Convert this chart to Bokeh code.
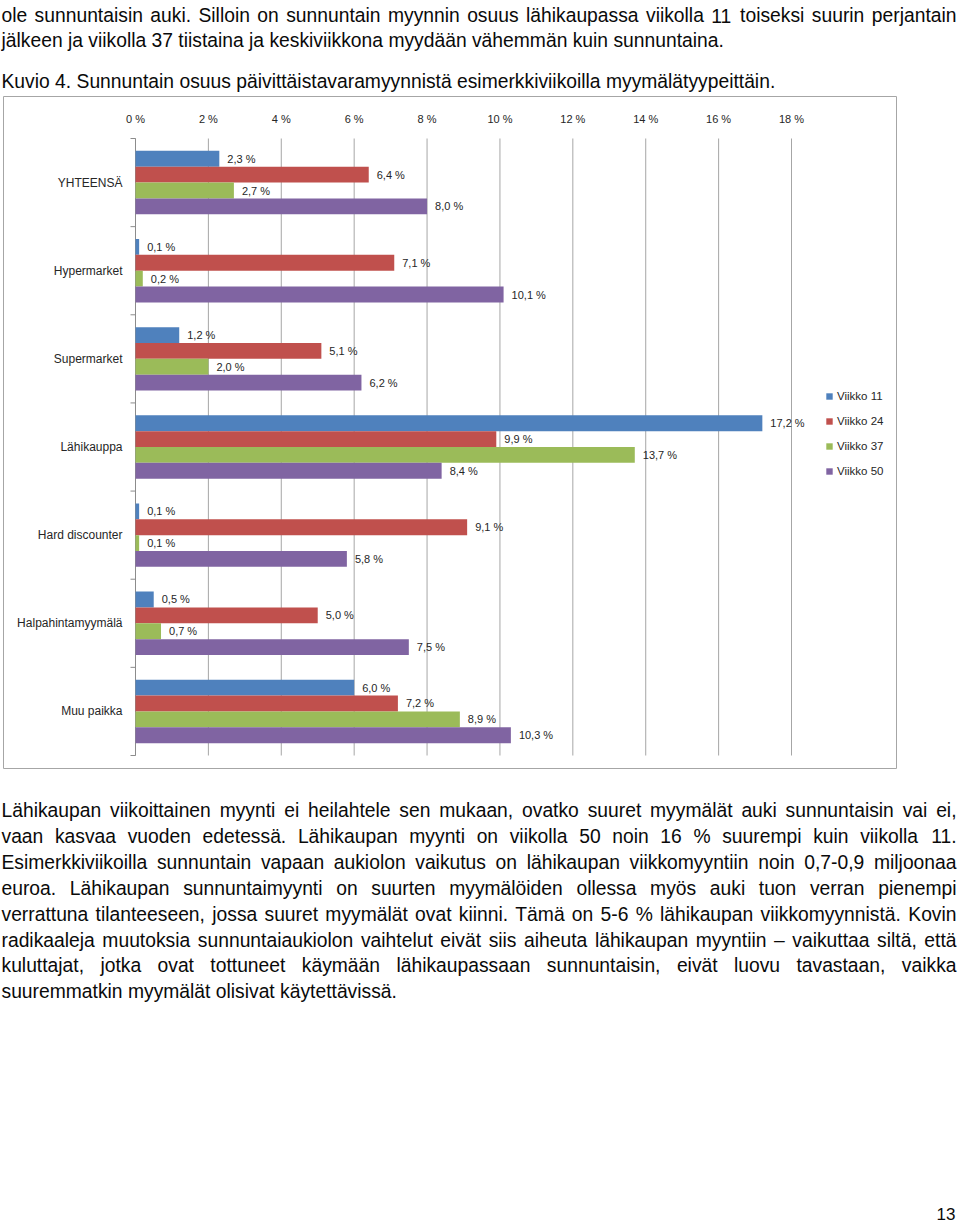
from bokeh.plotting import figure
from bokeh.models import ColumnDataSource, Range1d, Legend, LegendItem
from bokeh.embed import file_html
from bokeh.resources import INLINE
from bokeh.core.properties import value, field

# ---------------- data ----------------
categories = ["YHTEENSÄ", "Hypermarket", "Supermarket", "Lähikauppa",
              "Hard discounter", "Halpahintamyymälä", "Muu paikka"]
series_names = ["Viikko 11", "Viikko 24", "Viikko 37", "Viikko 50"]
viikko_11 = [2.3, 0.1, 1.2, 17.2, 0.1, 0.5, 6.0]
viikko_24 = [6.4, 7.1, 5.1, 9.9, 9.1, 5.0, 7.2]
viikko_37 = [2.7, 0.2, 2.0, 13.7, 0.1, 0.7, 8.9]
viikko_50 = [8.0, 10.1, 6.2, 8.4, 5.8, 7.5, 10.3]
x_ticks = [0, 2, 4, 6, 8, 10, 12, 14, 16, 18]
x_tick_labels = ["0 %", "2 %", "4 %", "6 %", "8 %", "10 %", "12 %", "14 %", "16 %", "18 %"]
colors = ["#4F81BD", "#C0504D", "#9BBB59", "#8064A2"]

top_lines = [
    "ole sunnuntaisin auki. Silloin on sunnuntain myynnin osuus lähikaupassa viikolla 11 toiseksi suurin perjantain",
    "jälkeen ja viikolla 37 tiistaina ja keskiviikkona myydään vähemmän kuin sunnuntaina.",
]
caption = "Kuvio 4. Sunnuntain osuus päivittäistavaramyynnistä esimerkkiviikoilla myymälätyypeittäin."
bottom_lines = [
    "Lähikaupan viikoittainen myynti ei heilahtele sen mukaan, ovatko suuret myymälät auki sunnuntaisin vai ei,",
    "vaan kasvaa vuoden edetessä. Lähikaupan myynti on viikolla 50 noin 16 % suurempi kuin viikolla 11.",
    "Esimerkkiviikoilla sunnuntain vapaan aukiolon vaikutus on lähikaupan viikkomyyntiin noin 0,7-0,9 miljoonaa",
    "euroa. Lähikaupan sunnuntaimyynti on suurten myymälöiden ollessa myös auki tuon verran pienempi",
    "verrattuna tilanteeseen, jossa suuret myymälät ovat kiinni. Tämä on 5-6 % lähikaupan viikkomyynnistä. Kovin",
    "radikaaleja muutoksia sunnuntaiaukiolon vaihtelut eivät siis aiheuta lähikaupan myyntiin – vaikuttaa siltä, että",
    "kuluttajat, jotka ovat tottuneet käymään lähikaupassaan sunnuntaisin, eivät luovu tavastaan, vaikka",
    "suuremmatkin myymälät olisivat käytettävissä.",
]
page_number = "13"

FONT = "Liberation Sans"
BODY_SIZE = 19.3
INK = "#262626"
GRID = "#a6a6a6"

# Arial / Liberation Sans advance widths (1/1000 em), used to space justified words
AW = {" ": 278, ",": 278, ".": 278, "-": 333, "%": 889, "–": 556, ":": 278}
for ch in "0123456789":
    AW[ch] = 556
AW.update(dict(zip("abcdefghijklmnopqrstuvwxyz",
                   [556, 556, 500, 556, 556, 278, 556, 556, 222, 222, 500, 222, 833,
                    556, 556, 556, 556, 333, 500, 278, 556, 500, 722, 500, 500, 500])))
AW.update({"ä": 556, "ö": 556, "å": 556, "Ä": 667, "Ö": 778})
AW.update(dict(zip("ABCDEFGHIJKLMNOPQRSTUVWXYZ",
                   [667, 667, 722, 722, 667, 611, 778, 722, 278, 500, 667, 556, 833,
                    722, 778, 667, 778, 722, 667, 611, 722, 667, 944, 667, 667, 611])))


def text_width(s, size):
    return sum(AW.get(c, 556) for c in s) * size / 1000.0


# ---------------- page geometry ----------------
# The whole page is one plot frame; the bar area spans 0..18 % horizontally
# and the seven categories vertically.
PAGE_W, PAGE_H = 960, 1224
F_LEFT, F_RIGHT, F_TOP, F_BOTTOM = 135, 791, 138, 755
X_MAX = 18
n = len(categories)
PX_X = (F_RIGHT - F_LEFT) / X_MAX
PX_Y = (F_BOTTOM - F_TOP) / n


def dx(px):
    return (px - F_LEFT) / PX_X


def dy(py):
    return (F_BOTTOM - py) / PX_Y


p = figure(width=PAGE_W, height=PAGE_H,
           x_range=Range1d(dx(0), dx(PAGE_W)), y_range=Range1d(dy(PAGE_H), dy(0)),
           x_axis_location=None, y_axis_location=None,
           output_backend="svg", toolbar_location=None, min_border=0,
           outline_line_color=None, background_fill_color="white", border_fill_color="white")
p.grid.visible = False

# chart box
p.quad(left=[dx(3)], right=[dx(896)], top=[dy(96)], bottom=[dy(768)],
       fill_color=None, line_color=GRID, line_width=1)

# vertical grid lines at the value ticks
p.segment(x0=x_ticks, x1=x_ticks, y0=[0] * len(x_ticks), y1=[n] * len(x_ticks),
          line_color=GRID, line_width=1)

# category axis line and boundary ticks
bounds = list(range(n + 1))
p.segment(x0=[0], x1=[0], y0=[0], y1=[n], line_color="#8c8c8c", line_width=1)
p.segment(x0=[dx(130)] * len(bounds), x1=[0] * len(bounds), y0=bounds, y1=bounds,
          line_color="#8c8c8c", line_width=1)

# value tick labels (top)
p.text(x=x_ticks, y=[dy(118)] * len(x_ticks), text=x_tick_labels, text_align="center",
       text_baseline="middle", text_font=value(FONT), text_font_size="11px", text_color=INK)

# category labels
centres = [(n - 1 - i) + 0.5 for i in range(n)]
p.text(x=[dx(122)] * n, y=centres, text=categories, text_align="right",
       text_baseline="middle", text_font=value(FONT), text_font_size="12px", text_color=INK)

# bars + value labels
values = [viikko_11, viikko_24, viikko_37, viikko_50]
bar_h = 0.18
offsets = [1.5 * bar_h, 0.5 * bar_h, -0.5 * bar_h, -1.5 * bar_h]
items = []
for name, vals, col, off in zip(series_names, values, colors, offsets):
    ys = [c + off for c in centres]
    labels = [f"{v:.1f}".replace(".", ",") + " %" for v in vals]
    src = ColumnDataSource(dict(cat=categories, y=ys, v=vals, label=labels))
    rnd = p.hbar(y="y", left=0, right="v", height=bar_h, source=src,
                 fill_color=col, line_color=None)
    items.append(LegendItem(label=name, renderers=[rnd]))
    p.text(x="v", y="y", text="label", source=src, x_offset=8, text_align="left",
           text_baseline="middle", text_font=value(FONT), text_font_size="11px",
           text_color=INK)

legend = Legend(items=items, location=(825, PAGE_H - 481), border_line_color=None,
                background_fill_alpha=0, label_text_font=FONT,
                label_text_font_size="11.5px", label_text_color=INK,
                glyph_width=8, glyph_height=8, label_height=20, spacing=5,
                padding=0, margin=0, label_standoff=4)
p.add_layout(legend)


# ---------------- document text (justified words) ----------------
def set_lines(lines, baselines, justify, x0, x1):
    out = {"left": dict(x=[], y=[], t=[], size=[]), "right": dict(x=[], y=[], t=[], size=[])}
    for line, yb, j in zip(lines, baselines, justify):
        if not j:
            d = out["left"]
            d["x"].append(dx(x0)); d["y"].append(dy(yb)); d["t"].append(line)
            d["size"].append(f"{BODY_SIZE}px")
            continue
        words = line.split(" ")
        size = BODY_SIZE
        nat = sum(text_width(w, size) for w in words)
        min_gap = 4.0
        if nat + (len(words) - 1) * min_gap > x1 - x0:
            size = size * (x1 - x0 - (len(words) - 1) * min_gap) / nat
        ws = [text_width(w, size) for w in words]
        gap = (x1 - x0 - sum(ws)) / (len(words) - 1)
        x = x0
        for k, (w, wd) in enumerate(zip(words, ws)):
            last = k == len(words) - 1
            d = out["right"] if last else out["left"]
            d["x"].append(dx(x1) if last else dx(x))
            d["y"].append(dy(yb)); d["t"].append(w); d["size"].append(f"{size:.2f}px")
            x += wd + gap
    return out


doc_lines = top_lines + [caption] + bottom_lines
doc_base = [15, 40, 80.5] + [810 + 25.9 * k for k in range(len(bottom_lines))]
doc_just = [True, False, False] + [True] * (len(bottom_lines) - 1) + [False]
placed = set_lines(doc_lines, doc_base, doc_just, 1, 956)
for align, d in placed.items():
    p.text(x="x", y="y", text="t", source=ColumnDataSource(d), text_align=align,
           text_baseline="alphabetic", text_font=value(FONT), text_font_size=field("size"),
           text_color="#0a0a0a")

p.text(x=[dx(955)], y=[dy(1213)], text=[page_number], text_align="right",
       text_baseline="alphabetic", text_font=value(FONT), text_font_size="17px",
       text_color="#0a0a0a")

open("out.html", "w").write(file_html(p, INLINE))
